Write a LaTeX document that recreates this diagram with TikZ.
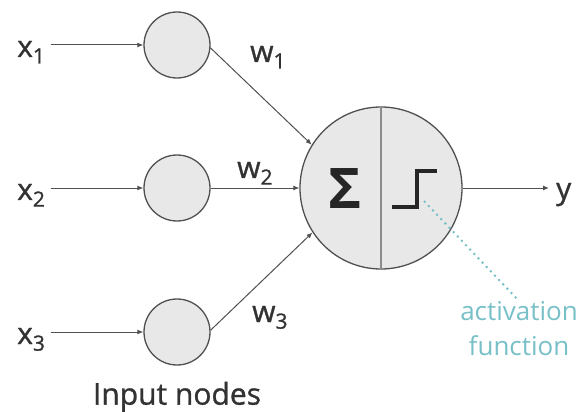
\documentclass[tikz,border=0pt]{standalone}
\usepackage{fontspec}
\setmainfont{Open Sans}
\newfontfamily\lblfont{Open Sans}[FakeBold=1]
\usepackage{xcolor}
\usetikzlibrary{positioning, arrows.meta}
\definecolor{nodegray}{RGB}{232,232,232}
\definecolor{edgegray}{RGB}{80,80,80}
\definecolor{textgray}{RGB}{50,50,50}
\definecolor{actteal}{RGB}{120,192,200}

\begin{document}
\begin{tikzpicture}[x=1pt, y=-1pt, font=\lblfont\fontsize{30}{32}\selectfont, text=textgray,
  innode/.style={circle, draw=edgegray, fill=nodegray, line width=1.3pt, minimum size=66pt, inner sep=0pt},
  lbl/.style={inner sep=0pt, anchor=base west},
  link/.style={draw=edgegray, line width=1pt, -{Latex[length=6pt,width=5pt]}}]
  \useasboundingbox (0,0) rectangle (582,412);

  % input layer
  \node[innode] (in1) at (177,45) {};
  \node[innode] (in2) at (177,188) {};
  \node[innode] (in3) at (177,332) {};
  \node[below=16pt of in3, inner sep=0pt] (inlabel) {Input nodes};

  \node[lbl] (x1) at (17,57) {x\textsubscript{1}};
  \node[lbl] (x2) at (17,200) {x\textsubscript{2}};
  \node[lbl] (x3) at (17,344) {x\textsubscript{3}};

  % neuron
  \node[innode, minimum size=162pt] (sum) at (381,188) {};
  \draw[draw=black!45, line width=2pt] (sum.north) -- (sum.south);
  \node[font=\rmfamily\fontsize{56}{56}\bfseries\selectfont, text=black!85] (sigma) at (345,189) {Σ};
  \draw[black!85, line width=4pt] (392,207) -- (417,207) -- (417,171) -- (437,171);
  \coordinate (stepcorner) at (424,201);

  % weights
  \node[lbl] (w1) at (250,62) {w\textsubscript{1}};
  \node[lbl] (w2) at (237,178) {w\textsubscript{2}};
  \node[lbl] (w3) at (252,322) {w\textsubscript{3}};

  \node[lbl] (y) at (556,199) {y};

  \node[text=actteal, align=center, anchor=north, inner sep=0pt,
        font=\rmfamily\fontsize{26}{35}\selectfont] (act) at (519,301) {activation\\function};

  % connectors
  \draw[link, shorten <=5pt] (x1.east |- in1) -- (in1);
  \draw[link, shorten <=5pt] (x2.east |- in2) -- (in2);
  \draw[link, shorten <=5pt] (x3.east |- in3) -- (in3);
  \draw[link] (in1.-5) -- (sum.148);
  \draw[link] (in2) -- (sum);
  \draw[link] (in3.3) -- (sum.213);
  \draw[link, shorten >=7pt] (sum) -- (y.west |- sum);
  \draw[actteal, line width=2pt, dash pattern=on 2pt off 4pt] (stepcorner) -- (act.north);
\end{tikzpicture}
\end{document}
